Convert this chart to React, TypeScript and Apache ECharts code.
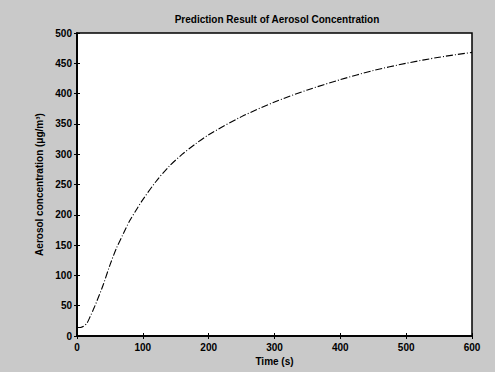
import React, { useEffect, useRef } from "react";
import * as echarts from "echarts";

const times = [0, 5, 10, 15, 20, 25, 30, 40, 50, 60, 70, 80, 90, 100, 120, 140, 160, 180, 200, 250, 300, 350, 400, 450, 500, 550, 600];
const concentration = [14, 14, 16, 21, 32, 44, 57, 85, 117, 145, 168, 190, 208, 225, 255, 280, 300, 317, 332, 362, 386, 406, 423, 438, 450, 460, 468];
const xTicks = [0, 100, 200, 300, 400, 500, 600];
const yTicks = [0, 50, 100, 150, 200, 250, 300, 350, 400, 450, 500];

export default function App() {
  const ref = useRef<HTMLDivElement>(null);
  useEffect(() => {
    if (!ref.current) return;
    const chart = echarts.init(ref.current, null, { renderer: "svg" });
    const font = { fontFamily: "Liberation Sans", fontWeight: "bold" as const, color: "#000", fontSize: 10 };
    chart.setOption({
      animation: false,
      backgroundColor: "#c9c9c9",
      title: {
        text: "Prediction Result of Aerosol Concentration",
        left: 272,
        top: 9,
        textAlign: "center",
        textStyle: { ...font, fontSize: 10 },
      },
      grid: { left: 77, right: 23, top: 33, bottom: 36, show: true, backgroundColor: "#fff", borderColor: "#000", borderWidth: 1.5 },
      xAxis: [
        {
          type: "value",
          min: xTicks[0],
          max: xTicks[xTicks.length - 1],
          interval: 100,
          name: "Time (s)",
          nameLocation: "middle",
          nameGap: 20,
          nameTextStyle: font,
          axisLine: { show: true, lineStyle: { color: "#000", width: 1.5 } },
          axisTick: { show: true, inside: true, length: 3, lineStyle: { color: "#000" } },
          axisLabel: { ...font, margin: 6 },
          splitLine: { show: false },
        },
        {
          type: "value",
          position: "top",
          min: xTicks[0],
          max: xTicks[xTicks.length - 1],
          interval: 100,
          axisLine: { show: true, lineStyle: { color: "#000", width: 1.5 } },
          axisTick: { show: true, inside: true, length: 3, lineStyle: { color: "#000" } },
          axisLabel: { show: false },
          splitLine: { show: false },
        },
      ],
      yAxis: [
        {
          type: "value",
          min: yTicks[0],
          max: yTicks[yTicks.length - 1],
          interval: 50,
          name: "Aerosol concentration (μg/m³)",
          nameLocation: "middle",
          nameGap: 28,
          nameTextStyle: font,
          axisLine: { show: true, lineStyle: { color: "#000", width: 1.5 } },
          axisTick: { show: true, inside: true, length: 3, lineStyle: { color: "#000" } },
          axisLabel: { ...font, margin: 5 },
          splitLine: { show: false },
        },
        {
          type: "value",
          position: "right",
          min: yTicks[0],
          max: yTicks[yTicks.length - 1],
          interval: 50,
          axisLine: { show: true, lineStyle: { color: "#000", width: 1.5 } },
          axisTick: { show: true, inside: true, length: 3, lineStyle: { color: "#000" } },
          axisLabel: { show: false },
          splitLine: { show: false },
        },
      ],
      series: [
        {
          type: "line",
          data: times.map((t, i) => [t, concentration[i]]),
          smooth: 0.3,
          showSymbol: false,
          lineStyle: { color: "#000", width: 1.1, type: [7, 2, 1, 2] },
        },
      ],
    });
    return () => chart.dispose();
  }, []);
  return <div ref={ref} style={{ position: "fixed", left: 0, top: 0, width: 495, height: 372 }} />;
}
